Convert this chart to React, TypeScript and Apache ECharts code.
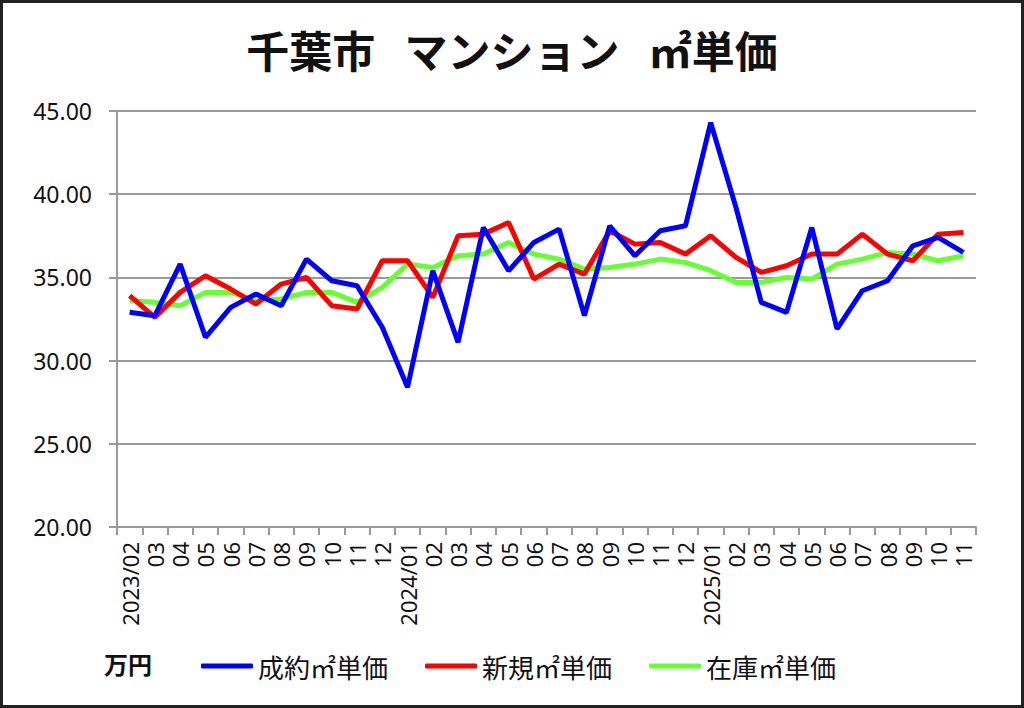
import React, { useEffect, useRef } from "react";
import * as echarts from "echarts";

const categories = [
  "2023/02", "03", "04", "05", "06", "07", "08", "09", "10", "11", "12",
  "2024/01", "02", "03", "04", "05", "06", "07", "08", "09", "10", "11", "12",
  "2025/01", "02", "03", "04", "05", "06", "07", "08", "09", "10", "11",
];

const seiyaku = [
  32.9, 32.7, 35.8, 31.4, 33.2, 34.0, 33.3, 36.1, 34.8, 34.5, 32.0,
  28.4, 35.4, 31.1, 38.0, 35.4, 37.1, 37.9, 32.7, 38.1, 36.3, 37.8, 38.1,
  44.3, 39.2, 33.5, 32.9, 38.0, 31.9, 34.2, 34.8, 36.9, 37.4, 36.5,
];

const shinki = [
  33.9, 32.6, 34.1, 35.1, 34.3, 33.4, 34.6, 35.0, 33.3, 33.1, 36.0,
  36.0, 33.8, 37.5, 37.6, 38.3, 34.9, 35.8, 35.2, 37.8, 37.0, 37.1, 36.4,
  37.5, 36.2, 35.3, 35.7, 36.4, 36.4, 37.6, 36.4, 36.0, 37.6, 37.7,
];

const zaiko = [
  33.6, 33.5, 33.3, 34.1, 34.1, 33.6, 33.7, 34.1, 34.1, 33.5, 34.4,
  35.8, 35.6, 36.3, 36.4, 37.1, 36.4, 36.1, 35.5, 35.6, 35.8, 36.1, 35.9,
  35.4, 34.7, 34.7, 35.0, 34.9, 35.8, 36.1, 36.5, 36.4, 36.0, 36.3,
];

const seriesNames = ["成約㎡単価", "新規㎡単価", "在庫㎡単価"];
const seriesColors = ["#0000ff", "#ff0000", "#66ff33"];

export default function App() {
  const ref = useRef<HTMLDivElement>(null);

  useEffect(() => {
    document.body.style.margin = "0";
    if (!ref.current) return;
    const chart = echarts.init(ref.current, undefined, { renderer: "svg" });
    const latin = "'Noto Sans', 'Open Sans', sans-serif";
    const cjk = "'Noto Sans CJK JP', 'Noto Sans', sans-serif";
    const data = [seiyaku, shinki, zaiko];
    chart.setOption({
      animation: false,
      backgroundColor: "#ffffff",
      title: {
        text: "千葉市   マンション   ㎡単価",
        left: "center",
        top: 22,
        textStyle: {
          fontFamily: cjk,
          fontSize: 43,
          fontWeight: "bold",
          color: "#111",
        },
      },
      legend: {
        left: 196,
        top: 648,
        itemWidth: 52,
        itemHeight: 5,
        itemGap: 37,
        icon: "roundRect",
        textStyle: { fontFamily: cjk, fontSize: 26, color: "#111" },
        data: seriesNames,
      },
      grid: { left: 117, right: 48, top: 111, bottom: 181 },
      xAxis: {
        type: "category",
        data: categories,
        boundaryGap: true,
        axisLine: { lineStyle: { color: "#999", width: 2 } },
        axisTick: { show: true, length: 8, interval: 0, lineStyle: { color: "#999", width: 2 } },
        axisLabel: {
          interval: 0,
          rotate: 90,
          margin: 15,
          fontFamily: latin,
          fontSize: 22,
          color: "#111",
        },
      },
      yAxis: {
        type: "value",
        min: 20,
        max: 45,
        interval: 5,
        axisLine: { show: true, lineStyle: { color: "#999", width: 2 } },
        axisTick: { show: true, length: 8, lineStyle: { color: "#999", width: 2 } },
        splitLine: { lineStyle: { color: "#999", width: 2 } },
        axisLabel: {
          formatter: (v: number) => v.toFixed(2),
          margin: 25,
          fontFamily: latin,
          fontSize: 23,
          color: "#111",
        },
      },
      graphic: [
        {
          type: "rect",
          shape: { x: 1.5, y: 1.5, width: 1021, height: 705 },
          style: { fill: "none", stroke: "#222", lineWidth: 3 },
          silent: true,
        },
        {
          type: "text",
          left: 104,
          top: 651,
          style: {
            text: "万円",
            fontFamily: cjk,
            fontSize: 24,
            fontWeight: "bold",
            fill: "#111",
          },
        },
      ],
      series: seriesNames.map((name, i) => ({
        name,
        type: "line",
        data: data[i],
        symbol: "none",
        lineStyle: { width: 5, color: seriesColors[i] },
        itemStyle: { color: seriesColors[i] },
        z: 3 - i,
      })),
    });
    return () => chart.dispose();
  }, []);

  return <div ref={ref} style={{ width: 1024, height: 708 }} />;
}
